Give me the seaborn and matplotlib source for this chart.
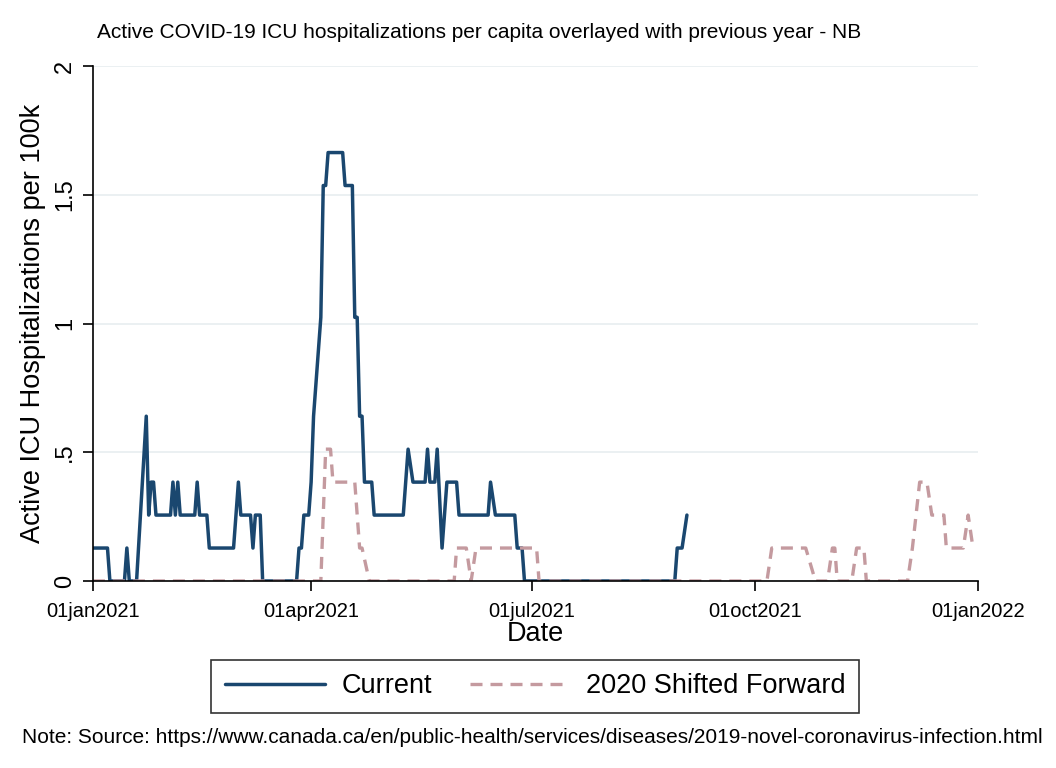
import pandas as pd
import matplotlib
matplotlib.use('Agg')
import matplotlib.pyplot as plt
import seaborn as sns

# Data (days since 01jan2021, ICU per 100k)
current_days = [0, 6, 7, 13, 14, 15, 18, 22, 23, 24, 25, 26, 32, 33, 34, 35, 36, 42, 43, 44,
                47, 48, 58, 60, 61, 65, 66, 67, 69, 70, 84, 85, 86, 87, 89, 90, 91, 94, 95, 96,
                97, 103, 104, 107, 108, 109, 110, 111, 112, 115, 116, 128, 130, 132, 137, 138, 139, 141, 142, 144,
                146, 150, 151, 163, 164, 166, 174, 175, 177, 178, 240, 241, 243, 245]
current_vals = [0.128, 0.128, 0, 0, 0.128, 0, 0, 0.64, 0.256, 0.384, 0.384, 0.256, 0.256, 0.384, 0.256, 0.384, 0.256, 0.256, 0.384, 0.256,
                0.256, 0.128, 0.128, 0.384, 0.256, 0.256, 0.128, 0.256, 0.256, 0, 0, 0.128, 0.128, 0.256, 0.256, 0.384, 0.64, 1.024, 1.536, 1.536,
                1.664, 1.664, 1.536, 1.536, 1.024, 1.024, 0.64, 0.64, 0.384, 0.384, 0.256, 0.256, 0.512, 0.384, 0.384, 0.512, 0.384, 0.384, 0.512, 0.128,
                0.384, 0.384, 0.256, 0.256, 0.384, 0.256, 0.256, 0.128, 0.128, 0, 0, 0.128, 0.128, 0.256]

prev_days = [0, 94, 96, 98, 99, 108, 110, 111, 114, 149, 150, 154, 156, 158, 183, 184,
             278, 280, 294, 298, 303, 305, 306, 307, 313, 315, 318, 319, 336, 338, 341, 344,
             346, 351, 352, 359, 361, 363]
prev_vals = [0, 0, 0.512, 0.512, 0.384, 0.384, 0.128, 0.128, 0, 0, 0.128, 0.128, 0, 0.128, 0.128, 0,
             0, 0.128, 0.128, 0, 0, 0.128, 0.128, 0, 0, 0.128, 0.128, 0, 0, 0.128, 0.384, 0.384,
             0.256, 0.256, 0.128, 0.128, 0.256, 0.128]

start = pd.Timestamp('2021-01-01')
df_cur = pd.DataFrame({'Date': start + pd.to_timedelta(current_days, unit='D'),
                       'ICU': current_vals})
df_prev = pd.DataFrame({'Date': start + pd.to_timedelta(prev_days, unit='D'),
                        'ICU': prev_vals})

sns.set_style('white')
plt.rcParams['font.family'] = ['Liberation Sans', 'DejaVu Sans']
plt.rcParams['text.color'] = 'black'
plt.rcParams['axes.labelcolor'] = 'black'
plt.rcParams['xtick.color'] = 'black'
plt.rcParams['ytick.color'] = 'black'

fig = plt.figure(figsize=(10.56, 7.68), dpi=100)
ax = fig.add_axes([0.088, 0.2435, 0.838, 0.6705])

sns.lineplot(data=df_cur, x='Date', y='ICU', color='#1a476f', linewidth=2.5,
             label='Current', ax=ax)
sns.lineplot(data=df_prev, x='Date', y='ICU', color='#c49a9f', linewidth=2.4,
             linestyle=(0, (3.6, 2.4)), label='2020 Shifted Forward', ax=ax)

ax.set_xlim(pd.Timestamp('2021-01-01'), pd.Timestamp('2022-01-01'))
ax.set_ylim(0, 2)
ticks = pd.to_datetime(['2021-01-01', '2021-04-01', '2021-07-01', '2021-10-01', '2022-01-01'])
ax.set_xticks(ticks)
ax.set_xticklabels([t.strftime('%d%b%Y').lower() for t in ticks], fontsize=14.5)
ax.set_yticks([0, 0.5, 1, 1.5, 2])
ax.set_yticklabels(['0', '.5', '1', '1.5', '2'], fontsize=17, rotation=90, va='center')
ax.yaxis.grid(True, color='#e8eef0', linewidth=1.2)
ax.set_axisbelow(True)
for side in ['top', 'right']:
    ax.spines[side].set_visible(False)
for side in ['left', 'bottom']:
    ax.spines[side].set_color('black')
    ax.spines[side].set_linewidth(1.2)
ax.tick_params(axis='x', direction='out', length=7, width=1.2, bottom=True, pad=8)
ax.tick_params(axis='y', direction='out', length=7, width=1.2, left=True, pad=5)

ax.set_xlabel('Date', fontsize=19.5, labelpad=0)
ax.set_ylabel('Active ICU Hospitalizations per 100k', fontsize=19.5, labelpad=6)

leg = ax.legend(loc='upper center', bbox_to_anchor=(0.5, -0.153), ncol=2, fontsize=19.5,
                frameon=True, fancybox=False, edgecolor='black', handlelength=3.7,
                handletextpad=0.6, columnspacing=1.4, borderpad=0.5, borderaxespad=0)
leg.get_frame().set_linewidth(1.2)

fig.text(0.092, 0.958, 'Active COVID-19 ICU hospitalizations per capita overlayed with previous year - NB',
         fontsize=15, ha='left', va='center')
fig.text(0.021, 0.040, 'Note: Source: https://www.canada.ca/en/public-health/services/diseases/2019-novel-coronavirus-infection.html',
         fontsize=15, ha='left', va='center')

fig.savefig('out.png', dpi=100)
